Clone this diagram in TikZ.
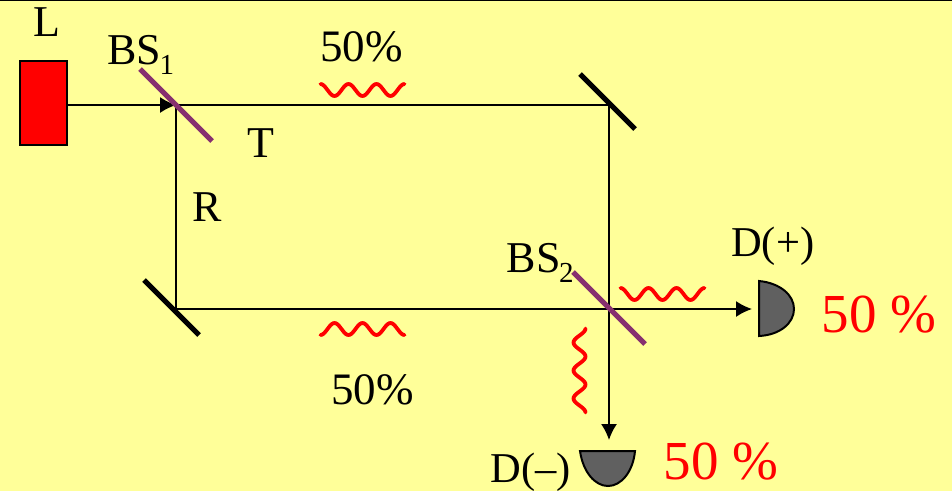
\documentclass[tikz,border=0pt]{standalone}
\usepackage{fontspec}
\setmainfont{Liberation Serif}
\usetikzlibrary{arrows.meta, positioning}

\definecolor{paper}{HTML}{FFFF99}
\definecolor{splitter}{HTML}{87306F}
\definecolor{sensor}{HTML}{606060}
\newcommand{\subidx}[1]{\kern-1.5pt\raisebox{-0.24em}{\fontsize{29}{29}\selectfont #1}}

\tikzset{
	beam/.style={draw=black, line width=1.6pt},
	tip/.style={-{Latex[length=16pt, width=16pt]}},
	mirror/.style={draw=black, line width=5pt},
	split/.style={draw=splitter, line width=5pt},
	detector/.style={draw=black, line width=2pt, fill=sensor},
	label/.style={anchor=base west, inner sep=0pt, font=\fontsize{44}{46}\selectfont},
	dname/.style={label, font=\fontsize{42.5}{46}\selectfont},
	pct/.style={label, font=\fontsize{45}{46}\selectfont},
	share/.style={anchor=base west, inner sep=0pt, text=red, font=\fontsize{55}{58}\selectfont},
	wavy/.pic={
		\draw[red, line width=3.8pt, line cap=round]
			plot[domain=0:1080, samples=61, smooth] ({\x/1080*84}, {-6*cos(\x)});
	},
}

\begin{document}
\begin{tikzpicture}[x=1pt, y=-1pt]
	\useasboundingbox (0,0) rectangle (952,491);
	\fill[paper] (0,0) rectangle (952,491);
	\draw[black, line width=2pt] (0,0) -- (952,0);

	\node[draw=black, line width=2pt, fill=red, minimum width=47pt, minimum height=84pt, inner sep=0pt] (laser) at (43.5,102.5) {};

	\coordinate (bs1) at (176,105);
	\coordinate (mirrorA) at (609,105);
	\coordinate (mirrorB) at (176,309);
	\coordinate (bs2) at (609,309);
	\coordinate (dplus) at (759,309);
	\coordinate (dminus) at (609,451);

	\draw[beam, tip] (laser.east |- bs1) -- (bs1);
	\draw[beam] (bs1) -- (mirrorA) -- (bs2);
	\draw[beam] (bs1) -- (mirrorB) -- (bs2);
	\draw[beam, tip, shorten >=7pt] (bs2) -- (dplus);
	\draw[beam, tip, shorten >=11pt] (bs2) -- (dminus);

	\draw[split] (bs1) +(-36,-36) -- +(36,36);
	\draw[split] (bs2) +(-36,-37) -- +(36,35);
	\draw[mirror] (mirrorA) +(-29,-31) -- +(26,24);
	\draw[mirror] (mirrorB) +(-32,-29) -- +(23,26);

	\draw[detector, shift={(dplus)}] (0,-28) .. controls (21,-26) and (35,-14) .. (35,0)
		.. controls (35,14) and (21,26) .. (0,27) -- cycle;
	\draw[detector, shift={(dminus)}] (-29,0) .. controls (-26,21) and (-14,35) .. (-1,35)
		.. controls (12,35) and (24,21) .. (26,0) -- cycle;

	\pic at (320.5,90) {wavy};
	\pic[yscale=-1] at (320.5,329) {wavy};
	\pic at (620.5,294) {wavy};
	\pic[rotate=-90] at (579.5,328.5) {wavy};

	\node[label] (lbl) at (33.5,36) {L};
	\node[label] (bsone) at (107,64) {BS\subidx{1}};
	\node[label] (transmit) at (247,157) {T};
	\node[label] (reflect) at (192,221) {R};
	\node[label] (bstwo) at (506.5,272) {BS\subidx{2}};
	\node[pct] (topshare) at (320,61) {50\%};
	\node[pct] (lowshare) at (331,404) {50\%};
	\node[dname] (plusname) at (731,256) {D(+)};
	\node[dname] (minusname) at (490.5,482) {D(--)};
	\node[share] (plusshare) at (821.5,332) {50 \%};
	\node[share] (minusshare) at (663.5,479) {50 \%};
\end{tikzpicture}
\end{document}
